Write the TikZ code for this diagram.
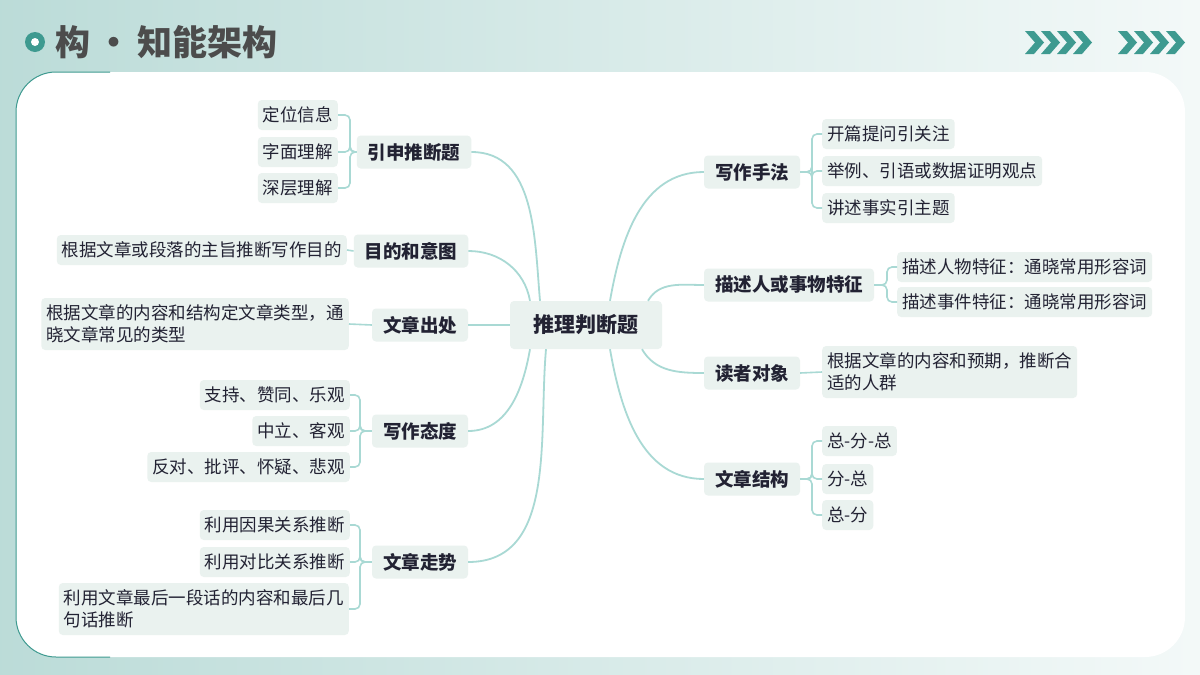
\documentclass[tikz,border=0pt]{standalone}
\usepackage{fontspec}
\setmainfont{Noto Sans CJK SC}
\usetikzlibrary{positioning,calc,shadings}
\definecolor{teal}{HTML}{3E9A90}
\definecolor{lnColor}{HTML}{A9D9D4}
\definecolor{boxColor}{HTML}{EAF2EF}
\definecolor{txtColor}{HTML}{222233}
\tikzset{
	leaf/.style={fill=boxColor, rounded corners=4pt, inner xsep=5pt, minimum height=30pt,
		font=\fontsize{17.5}{22}\selectfont, text=txtColor, align=left},
	branch/.style={fill=boxColor, rounded corners=4pt, inner xsep=11pt, minimum height=33pt,
		font=\fontsize{18.5}{22}\selectfont\bfseries, text=txtColor},
	conn/.style={draw=lnColor, line width=1.6pt, rounded corners=5pt},
	curve/.style={draw=lnColor, line width=1.8pt}
}
\begin{document}
\begin{tikzpicture}[x=1pt,y=-1pt]
	\useasboundingbox (0,0) rectangle (1200,675);
	\shade[left color=teal!35, right color=teal!6] (0,0) rectangle (1200,675);
	\fill[white] (16,72) [rounded corners=40pt] -- (16,657) -- (1185,657) -- (1185,72) -- cycle;
	\draw[teal, line width=1pt] (110,657) [rounded corners=40pt] -- (16,657) -- (16,72) -- (110,72);
	% title
	\fill[teal] (35,42) circle (10);
	\fill[white] (35,42) circle (4);
	\node[anchor=west, text=black!70, font=\fontsize{35}{38}\selectfont\bfseries] (title) at (52,42) {构\,·\,知能架构};
	\foreach \gx in {1025,1118}
		\foreach \i in {0,1,2,3}
			\fill[teal] ($(\gx,31)+(\i*16,0)$) -- ++(9,0) -- ++(10,11.5) -- ++(-10,11.5) -- ++(-9,0) -- ++(10,-11.5) -- cycle;
	% centre
	\node[fill=boxColor, rounded corners=4pt, minimum width=152pt, minimum height=48pt,
		font=\fontsize{21}{24}\selectfont\bfseries, text=txtColor] (root) at (586,325) {推理判断题};
	% left branches
	\node[branch] (yin) at (414,152) {引申推断题};
	\node[branch] (mudi) at (411,251) {目的和意图};
	\node[branch] (chuchu) at (420,325) {文章出处};
	\node[branch] (taidu) at (420,431) {写作态度};
	\node[branch] (zoushi) at (420,562) {文章走势};
	% right branches
	\node[branch] (shoufa) at (752,172) {写作手法};
	\node[branch] (miaoshu) at (789,285) {描述人或事物特征};
	\node[branch] (duzhe) at (752,373) {读者对象};
	\node[branch] (jiegou) at (752,479) {文章结构};
	% leaves
	\node[leaf, anchor=east] (yin1) at (338,115) {定位信息};
	\node[leaf, anchor=east] (yin2) at (338,152) {字面理解};
	\node[leaf, anchor=east] (yin3) at (338,188) {深层理解};
	\node[leaf, anchor=east] (mudi1) at (347,250) {根据文章或段落的主旨推断写作目的};
	\node[leaf, anchor=east, minimum height=52pt] (chuchu1) at (349,324) {根据文章的内容和结构定文章类型，通\\晓文章常见的类型};
	\node[leaf, anchor=east] (taidu1) at (350,395) {支持、赞同、乐观};
	\node[leaf, anchor=east] (taidu2) at (350,431) {中立、客观};
	\node[leaf, anchor=east] (taidu3) at (350,467) {反对、批评、怀疑、悲观};
	\node[leaf, anchor=east] (zoushi1) at (350,525) {利用因果关系推断};
	\node[leaf, anchor=east] (zoushi2) at (350,562) {利用对比关系推断};
	\node[leaf, anchor=east, minimum height=52pt] (zoushi3) at (349,609) {利用文章最后一段话的内容和最后几\\句话推断};
	\node[leaf, anchor=west] (shoufa1) at (822,134) {开篇提问引关注};
	\node[leaf, anchor=west] (shoufa2) at (822,171) {举例、引语或数据证明观点};
	\node[leaf, anchor=west] (shoufa3) at (822,208) {讲述事实引主题};
	\node[leaf, anchor=west] (miaoshu1) at (897,267) {描述人物特征：通晓常用形容词};
	\node[leaf, anchor=west] (miaoshu2) at (897,302) {描述事件特征：通晓常用形容词};
	\node[leaf, anchor=west, minimum height=52pt] (duzhe1) at (822,372) {根据文章的内容和预期，推断合\\适的人群};
	\node[leaf, anchor=west] (jiegou1) at (822,441) {总-分-总};
	\node[leaf, anchor=west] (jiegou2) at (822,479) {分-总};
	\node[leaf, anchor=west] (jiegou3) at (822,515) {总-分};
	% main curves
	\draw[curve] (yin.east) to[out=0, in=95] ($(root.north)+(-46,0)$);
	\draw[curve] (mudi.east) to[out=0, in=100] ($(root.north)+(-56,0)$);
	\draw[curve] (chuchu.east) -- (root.west);
	\draw[curve] (taidu.east) to[out=0, in=-100] ($(root.south)+(-56,0)$);
	\draw[curve] (zoushi.east) to[out=0, in=-95] ($(root.south)+(-40,0)$);
	\draw[curve] (shoufa.west) to[out=180, in=80] ($(root.north)+(24,0)$);
	\draw[curve] (miaoshu.west) to[out=180, in=60] ($(root.north)+(62,0)$);
	\draw[curve] (duzhe.west) to[out=180, in=-60] ($(root.south)+(56,0)$);
	\draw[curve] (jiegou.west) to[out=180, in=-80] ($(root.south)+(24,0)$);
	% brackets
	\foreach \p/\n/\x in {yin/yin1/350, yin/yin2/350, yin/yin3/350,
		taidu/taidu1/360, taidu/taidu2/360, taidu/taidu3/360,
		zoushi/zoushi1/360, zoushi/zoushi2/360, zoushi/zoushi3/360}
		\draw[conn] (\p.west) -- (\x,0 |- \p.west) |- (\n.east);
	\draw[conn] (mudi.west) -- (mudi1.east);
	\draw[conn] (chuchu.west) -- (chuchu1.east);
	\foreach \p/\n/\x in {shoufa/shoufa1/812, shoufa/shoufa2/812, shoufa/shoufa3/812,
		miaoshu/miaoshu1/887, miaoshu/miaoshu2/887,
		jiegou/jiegou1/812, jiegou/jiegou2/812, jiegou/jiegou3/812}
		\draw[conn] (\p.east) -- (\x,0 |- \p.east) |- (\n.west);
	\draw[conn] (duzhe.east) -- (duzhe1.west);
\end{tikzpicture}
\end{document}
